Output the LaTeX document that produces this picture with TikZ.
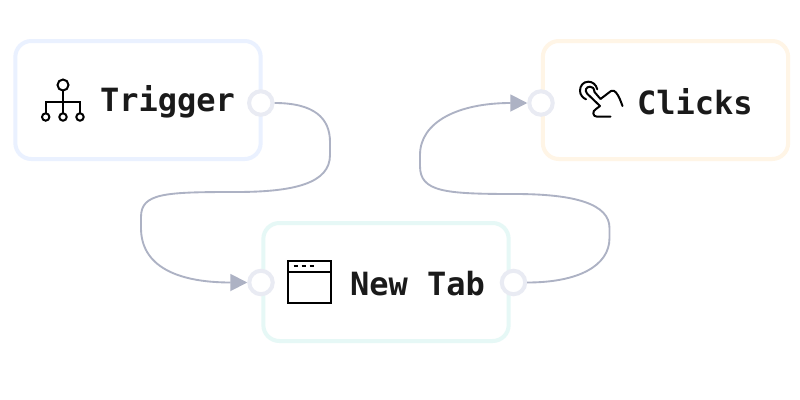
\documentclass[tikz,border=0pt]{standalone}
\usepackage{fontspec}
\setmonofont{DejaVu Sans Mono}
\usetikzlibrary{arrows.meta}
\definecolor{boxblue}{HTML}{EAF1FF}
\definecolor{boxteal}{HTML}{E6F8F6}
\definecolor{boxorange}{HTML}{FFF5E6}
\definecolor{portline}{HTML}{E9EBF3}
\definecolor{wire}{HTML}{ADB2C4}
\definecolor{ink}{HTML}{1A1A1A}
\tikzset{
  card/.style={draw=#1,fill=white,line width=3pt,rounded corners=12pt,minimum width=184pt,minimum height=88.5pt,outer sep=0pt,inner sep=0pt},
  port/.style={circle,draw=portline,fill=white,line width=3pt,minimum size=17.6pt,inner sep=0pt,outer sep=1.5pt},
  wirepath/.style={draw=wire,line width=1.4pt},
  wirearrow/.style={wirepath,-{Triangle[length=12.75pt,width=12.75pt,fill=wire,color=wire]}},
  label/.style={anchor=base west,inner sep=0pt,outer sep=0pt,text=ink,font=\ttfamily\bfseries\fontsize{24pt}{24pt}\selectfont},
  icon/.style={draw=black,line width=1.5pt,fill=none},
  curved/.style={icon,line cap=round,line join=round},
}
\begin{document}
\begin{tikzpicture}[x=0.75pt,y=-0.75pt]
\useasboundingbox[fill=white] (0,0) rectangle (800,400);
\node[card=boxblue] (trigger) at (138,100) {};
\node[card=boxteal] (newtab) at (386,282) {};
\node[card=boxorange] (clicks) at (665.5,100) {};
\node[port] (trigout) at (260.8,103) {};
\node[port] (tabin) at (261,282.5) {};
\node[port] (tabout) at (513.5,282.5) {};
\node[port] (clickin) at (541,103) {};
\draw[wirearrow] (trigout.east) .. controls (314,103) and (330,118) .. (330,142)
  -- (330,155)
  .. controls (330,183) and (295,192) .. (236,192)
  .. controls (165,192) and (141,193) .. (141,217)
  -- (141,228)
  .. controls (141,265) and (175,282.5) .. (tabin.west);
\draw[wirearrow] (tabout.east) .. controls (578,282.5) and (609.5,266) .. (609.5,238)
  -- (609.5,228)
  .. controls (609.5,204) and (575,194) .. (515,194)
  .. controls (445,194) and (420,192) .. (420,166)
  -- (420,155)
  .. controls (420,122) and (458,103) .. (clickin.west);
% Trigger icon
\draw[icon] (63,85) circle (5.5);
\draw[icon] (63,90.5) -- (63,113);
\draw[icon] (45.7,113) -- (45.7,101.7) -- (80,101.7) -- (80,113);
\draw[icon] (45.7,117) circle (3.7);
\draw[icon] (63,117) circle (3.7);
\draw[icon] (80,117) circle (3.7);
% New Tab icon
\draw[icon] (288,261) rectangle (330.5,302.5);
\draw[icon] (288,272) -- (330.5,272);
\draw[icon] (293.5,266.3) -- (297.5,266.3);
\draw[icon] (301.5,266.3) -- (305.5,266.3);
\draw[icon] (309.5,266.3) -- (313.5,266.3);
% Clicks icon
\draw[curved] (597.3,89.3) .. controls (596,84) and (592,81.7) .. (588.3,81.7)
  .. controls (583,81.7) and (580,86) .. (580,90.7)
  .. controls (580,95) and (583,98) .. (586,99.3);
\draw[curved] (594.5,92) .. controls (594,88) and (592.5,86.7) .. (590,86.7)
  .. controls (586,86.7) and (584.5,90.5) .. (587,93.5)
  -- (600,106);
\draw[curved] (594.5,92) -- (600.5,99) -- (611,91) .. controls (613,90) and (615,91) .. (616,92.5)
  .. controls (619,96) and (621,102) .. (622.5,106);
\draw[curved] (600,106) -- (596,109) .. controls (592,111) and (592.5,116.7) .. (597,116.7) -- (610.5,116.7);
% Labels
\node[label] (triggertext) at (100,111) {Trigger};
\node[label] (newtabtext) at (350,295) {New Tab};
\node[label] (clickstext) at (637,114) {Clicks};
\end{tikzpicture}
\end{document}
